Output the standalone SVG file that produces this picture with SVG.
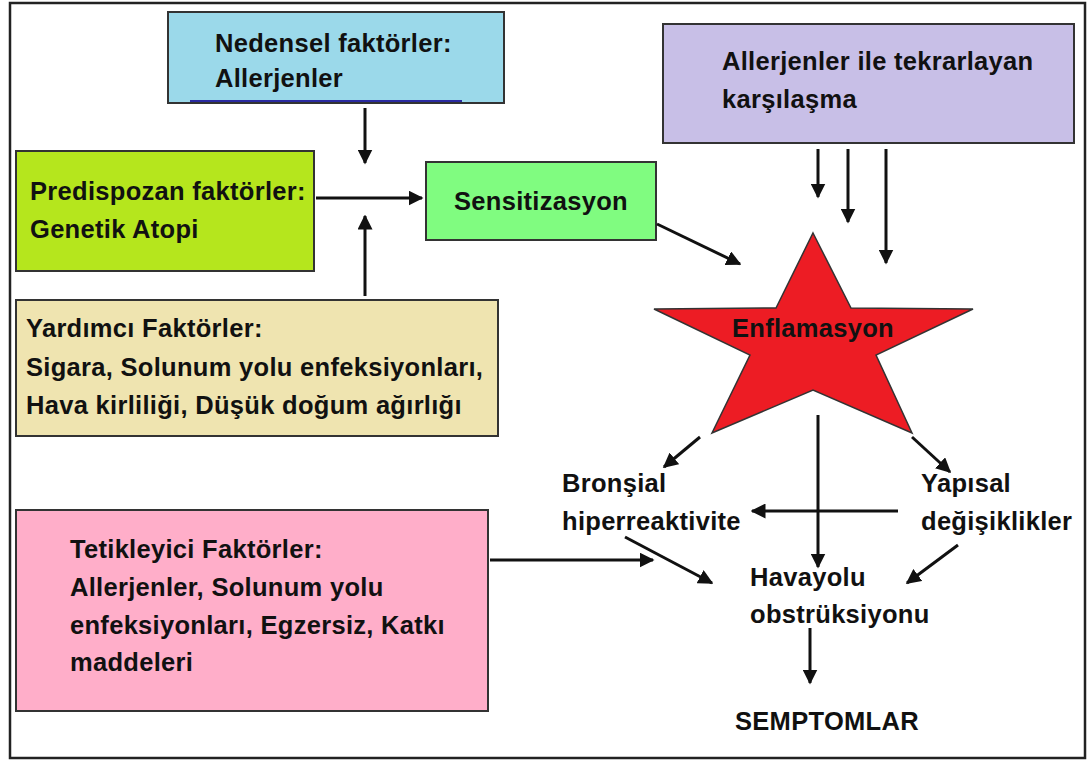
<svg xmlns="http://www.w3.org/2000/svg" width="1088" height="760" viewBox="0 0 1088 760">
<defs>
<style>
.box{stroke:#333;stroke-width:2}
.t{font-family:"Liberation Sans",Arial,sans-serif;font-weight:bold;font-size:25.5px;letter-spacing:0.3px;fill:#111}
.c{stroke:#111;stroke-width:3;fill:none;marker-end:url(#ah)}
</style>
<marker id="ah" markerWidth="5" markerHeight="5" refX="4.5" refY="2.5" orient="auto" markerUnits="strokeWidth">
<path d="M0,0 L5,2.5 L0,5 Z" fill="#111"/>
</marker>
</defs>
<rect width="1088" height="760" fill="#fff"/>
<rect x="10" y="3" width="1075" height="755" fill="none" stroke="#222" stroke-width="2.5"/>

<g id="nedensel">
<rect class="box" x="168" y="12" width="336" height="91" fill="#9bd9ea"/>
<line x1="190" y1="101" x2="462" y2="101" stroke="#2a2aa0" stroke-width="2"/>
<text class="t" x="215" y="52">Nedensel faktörler:</text>
<text class="t" x="215" y="87">Allerjenler</text>
</g>
<g id="predispozan">
<rect class="box" x="16" y="151" width="298" height="120" fill="#b5e61d"/>
<text class="t" x="30" y="200">Predispozan faktörler:</text>
<text class="t" x="30" y="238">Genetik Atopi</text>
</g>
<g id="sensitizasyon">
<rect class="box" x="426" y="162" width="230" height="78" fill="#80fc80"/>
<text class="t" x="541" y="210" text-anchor="middle">Sensitizasyon</text>
</g>
<g id="yardimci">
<rect class="box" x="16" y="300" width="482" height="136" fill="#efe4b0"/>
<text class="t" x="26" y="337">Yardımcı Faktörler:</text>
<text class="t" x="26" y="376">Sigara, Solunum yolu enfeksiyonları,</text>
<text class="t" x="26" y="414">Hava kirliliği, Düşük doğum ağırlığı</text>
</g>
<g id="tekrarlayan">
<rect class="box" x="663" y="24" width="411" height="119" fill="#c8bfe7"/>
<text class="t" x="722" y="70">Allerjenler ile tekrarlayan</text>
<text class="t" x="722" y="108">karşılaşma</text>
</g>
<g id="tetikleyici">
<rect class="box" x="16" y="510" width="472" height="201" fill="#ffaec9"/>
<text class="t" x="70" y="558">Tetikleyici Faktörler:</text>
<text class="t" x="70" y="596">Allerjenler, Solunum yolu</text>
<text class="t" x="70" y="634">enfeksiyonları, Egzersiz, Katkı</text>
<text class="t" x="70" y="671">maddeleri</text>
</g>
<g id="enflamasyon">
<polygon points="813,233 851,308 973,309 876,355 912,433 813,390 712,433 750,355 654,309 776,308" fill="#ed1c24" stroke="#333" stroke-width="1.5"/>
<text class="t" x="813" y="337" text-anchor="middle">Enflamasyon</text>
</g>
<g id="bronsial">
<text class="t" x="562" y="492">Bronşial</text>
<text class="t" x="562" y="530">hiperreaktivite</text>
</g>
<g id="yapisal">
<text class="t" x="921" y="492">Yapısal</text>
<text class="t" x="921" y="530">değişiklikler</text>
</g>
<g id="havayolu">
<text class="t" x="750" y="586">Havayolu</text>
<text class="t" x="750" y="623">obstrüksiyonu</text>
</g>
<g id="semptomlar">
<text class="t" x="735" y="730">SEMPTOMLAR</text>
</g>

<g id="connectors">
<line class="c" x1="365" y1="108" x2="365" y2="163"/>
<line class="c" x1="316" y1="198" x2="422" y2="198"/>
<line class="c" x1="365" y1="296" x2="365" y2="216"/>
<line class="c" x1="657" y1="224" x2="740" y2="264"/>
<line class="c" x1="818" y1="149" x2="818" y2="197"/>
<line class="c" x1="848" y1="149" x2="848" y2="222"/>
<line class="c" x1="886" y1="149" x2="886" y2="263"/>
<line class="c" x1="700" y1="437" x2="664" y2="467"/>
<line class="c" x1="912" y1="437" x2="950" y2="472"/>
<line class="c" x1="818" y1="415" x2="818" y2="567"/>
<line class="c" x1="898" y1="511" x2="752" y2="511"/>
<line class="c" x1="625" y1="537" x2="712" y2="583"/>
<line class="c" x1="490" y1="560" x2="653" y2="560"/>
<line class="c" x1="958" y1="545" x2="907" y2="583"/>
<line class="c" x1="810" y1="628" x2="810" y2="683"/>
</g>
</svg>
